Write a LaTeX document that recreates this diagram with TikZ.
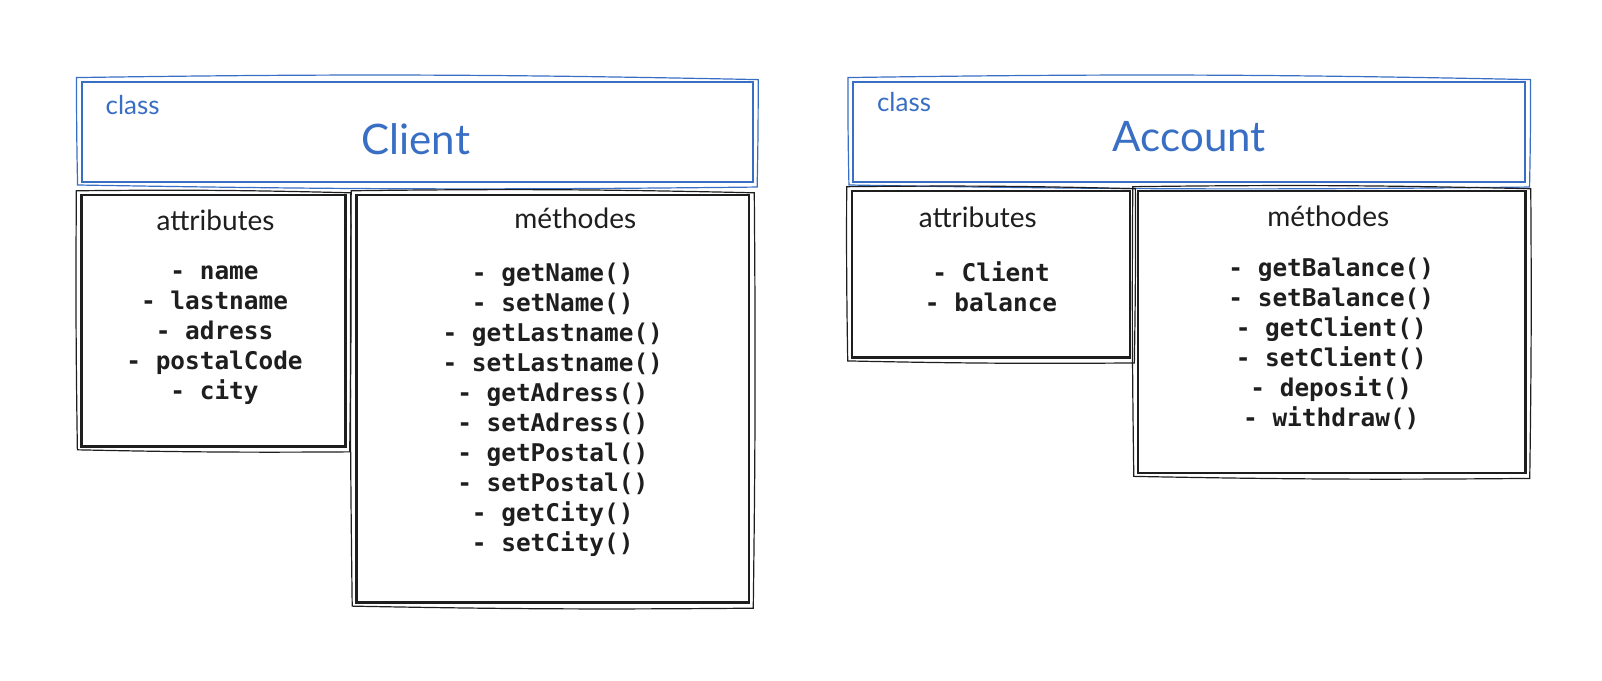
\documentclass[tikz,border=0pt]{standalone}
\usepackage{fontspec}
\setmainfont{Lato}
\setmonofont{DejaVu Sans Mono}
\usetikzlibrary{fit}
\definecolor{skblue}{RGB}{56,110,195}
\definecolor{skink}{RGB}{30,30,30}
\newcommand\skrough[2]{%
  \draw[#2, line width=0.6pt] ([shift={(-4,-3)}]#1.north west) to[bend left=1] ([shift={(4,-1)}]#1.north east)
    to[bend left=0.6] ([shift={(3,4)}]#1.south east) to[bend left=0.8] ([shift={(-3,2)}]#1.south west) to[bend left=0.6] cycle;}
\begin{document}
\begin{tikzpicture}[x=0.51085pt,y=-0.51085pt,
  hdr/.style={draw=skblue, line width=1.1pt, inner sep=0pt},
  box/.style={draw=skink, line width=1.3pt, inner sep=0pt},
  smallcls/.style={text=skblue, font=\fontsize{13}{15}\selectfont, anchor=west, inner sep=0pt},
  title/.style={text=skblue, font=\fontsize{21}{24}\selectfont, inner sep=0pt},
  head/.style={text=skink, font=\fontsize{14}{16}\selectfont, inner sep=0pt},
  items/.style={text=skink, font=\ttfamily\bfseries\fontsize{12.2}{15}\selectfont, align=center, inner sep=0pt}]
\useasboundingbox (0,0) rectangle (1568,666);
% Client
\node[hdr, fit={(80,80) (737,178)}] (chead) {};
\skrough{chead}{skblue}
\node[smallcls] (ccls) at (103,103) {class};
\node[title] (cname) at (407,136) {Client};
\node[box, fit={(80,191) (338,437)}] (catt) {};
\skrough{catt}{skink}
\node[head] (catth) at (211,216) {attributes};
\node[items] (cattl) at (210,328) {- name\\- lastname\\- adress\\- postalCode\\- city};
\node[box, fit={(349,191) (733,590)}] (cmeth) {};
\skrough{cmeth}{skink}
\node[head] (cmethh) at (563,214) {méthodes};
\node[items] (cmethl) at (541,401) {- getName()\\- setName()\\- getLastname()\\- setLastname()\\- getAdress()\\- setAdress()\\- getPostal()\\- setPostal()\\- getCity()\\- setCity()};
% Account
\node[hdr, fit={(835,80) (1493,178)}] (ahead) {};
\skrough{ahead}{skblue}
\node[smallcls] (acls) at (858,100) {class};
\node[title] (aname) at (1164,134) {Account};
\node[box, fit={(834,187) (1106,350)}] (aatt) {};
\skrough{aatt}{skink}
\node[head] (aatth) at (957,213) {attributes};
\node[items] (aattl) at (970,281) {- Client\\- balance};
\node[box, fit={(1114,187) (1493,463)}] (ameth) {};
\skrough{ameth}{skink}
\node[head] (amethh) at (1300,212) {méthodes};
\node[items] (amethl) at (1303,337) {- getBalance()\\- setBalance()\\- getClient()\\- setClient()\\- deposit()\\- withdraw()};
\end{tikzpicture}
\end{document}
